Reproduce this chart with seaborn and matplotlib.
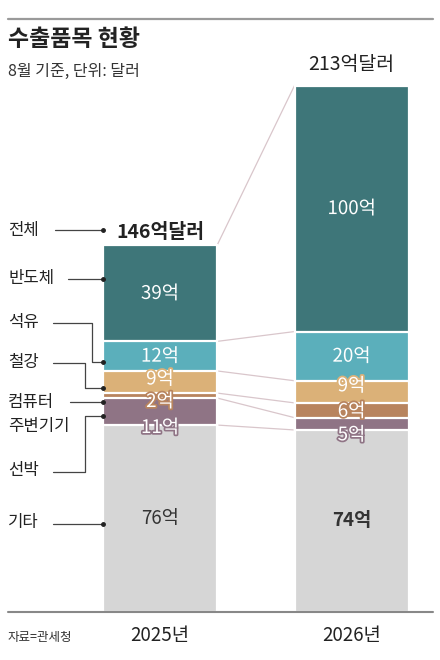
import pandas as pd
import numpy as np

import matplotlib
matplotlib.use('Agg')
import matplotlib.pyplot as plt
import matplotlib.patheffects as pe
import seaborn as sns

years = ['2025년', '2026년']
categories = ['기타', '선박', '컴퓨터 주변기기', '철강', '석유', '반도체']  # bottom -> top
v2025 = [76, 11, 2, 9, 12, 39]
v2026 = [74, 5, 6, 9, 20, 100]
totals = ['146억달러', '213억달러']
side_labels = ['전체', '반도체', '석유', '철강', '컴퓨터', '주변기기', '선박', '기타']

colors = ['#d6d6d6', '#8f7485', '#b8845e', '#dbb178', '#5bafbb', '#3e7679']
label_fill = ['#333333', 'white', 'white', 'white', 'white', 'white']
# vertical nudge of segment labels (px, positive = down)
nudge = {'2025년': [0, 16, 6, -3, 0, 0], '2026년': [0, 11, 1, -6, 0, 0]}

W, H = 440, 660
S = 2.46          # px per unit
BASE = 612        # baseline, px from top
X0, DX = 160, 191.5
BAR_W = 114 / DX

df = pd.DataFrame({'year': np.repeat(years, len(categories)),
                   'category': categories * 2,
                   'value': v2025 + v2026})
df['cum'] = df.groupby('year')['value'].cumsum()
df['mid'] = df['cum'] - df['value'] / 2


def X(px):
  return (px - X0) / DX


def Y(py):
  return (BASE - py) / S


sns.set_theme(style='white')
plt.rcParams['font.family'] = ['Noto Sans CJK KR', 'DejaVu Sans']

fig = plt.figure(figsize=(W / 100, H / 100), dpi=100)
ax = fig.add_axes([0, 0, 1, 1])

# stacked bars: draw cumulative layers from the top down
for i in range(len(categories) - 1, -1, -1):
  layer = df[df['category'] == categories[i]]
  sns.barplot(data=layer, x='year', y='cum', order=years, color=colors[i],
              width=BAR_W, edgecolor='white', linewidth=1.6, saturation=1,
              ax=ax, zorder=2)

ax.set_xlim(X(0), X(W))
ax.set_ylim(Y(H), Y(0))
ax.set_axis_off()

# connector lines between the bars
left = df[df['year'] == years[0]]['cum'].tolist()
right = df[df['year'] == years[1]]['cum'].tolist()
for a, b in zip(left, right):
  ax.plot([BAR_W / 2, 1 - BAR_W / 2], [a, b], color='#d9c6cb', lw=0.9, zorder=1)

# segment labels
for yi, yr in enumerate(years):
  sub = df[df['year'] == yr].reset_index(drop=True)
  for i, row in sub.iterrows():
    weight = 'bold' if (yr == '2026년' and i == 0) else 'normal'
    ax.text(yi, row['mid'] - nudge[yr][i] / S, f"{row['value']}억",
            ha='center', va='center', fontsize=13.5, color=label_fill[i],
            fontweight=weight, zorder=5,
            path_effects=[pe.withStroke(linewidth=2.5, foreground=colors[i])] if i > 0 else None)

# totals above bars
ax.text(0, Y(232), totals[0], ha='center', va='center', fontsize=14,
        fontweight='bold', color='#222222')
ax.text(1, Y(64), totals[1], ha='center', va='center', fontsize=14,
        color='#222222')

# left-side labels with leader lines
lab_y = [230, 278, 322, 362, 403, 427, 471, 522]
for t, py in zip(side_labels, lab_y):
  ax.text(X(8), Y(py), t, ha='left', va='center', fontsize=12, color='#222222')

bar_l = -BAR_W / 2
lc = dict(color='#444444', lw=0.9, zorder=3)
dot = dict(marker='o', ms=2.5, color='#222222', zorder=4, ls='none')
legs = [
  ([55, 103], [230, 230]),
  ([68, 103], [279, 279]),
  ([53, 92, 92, 103], [323, 323, 362, 362]),
  ([53, 85, 85, 103], [363, 363, 388, 388]),
  ([70, 103], [402, 402]),
  ([53, 85, 85, 103], [472, 472, 416, 416]),
  ([53, 103], [524, 524]),
]
for xs, ys in legs:
  ax.plot([X(v) for v in xs], [Y(v) for v in ys], **lc)
  ax.plot([bar_l], [Y(ys[-1])], **dot)

# rules
ax.plot([X(8), X(433)], [Y(19), Y(19)], color='#9a9a9a', lw=1.6)
ax.plot([X(8), X(433)], [0, 0], color='#888888', lw=1.5, zorder=6)

# titles and axis text
ax.text(X(8), Y(40), '수출품목 현황', ha='left', va='center', fontsize=16.5,
        fontweight='bold', color='#222222')
ax.text(X(8), Y(71), '8월 기준, 단위: 달러', ha='left', va='center',
        fontsize=11.5, color='#333333')
for yi, yr in enumerate(years):
  ax.text(yi, Y(636), yr, ha='center', va='center', fontsize=13.5,
          color='#222222')
ax.text(X(8), Y(638), '자료=관세청', ha='left', va='center', fontsize=9,
        color='#333333')

fig.savefig('out.png', dpi=100)
